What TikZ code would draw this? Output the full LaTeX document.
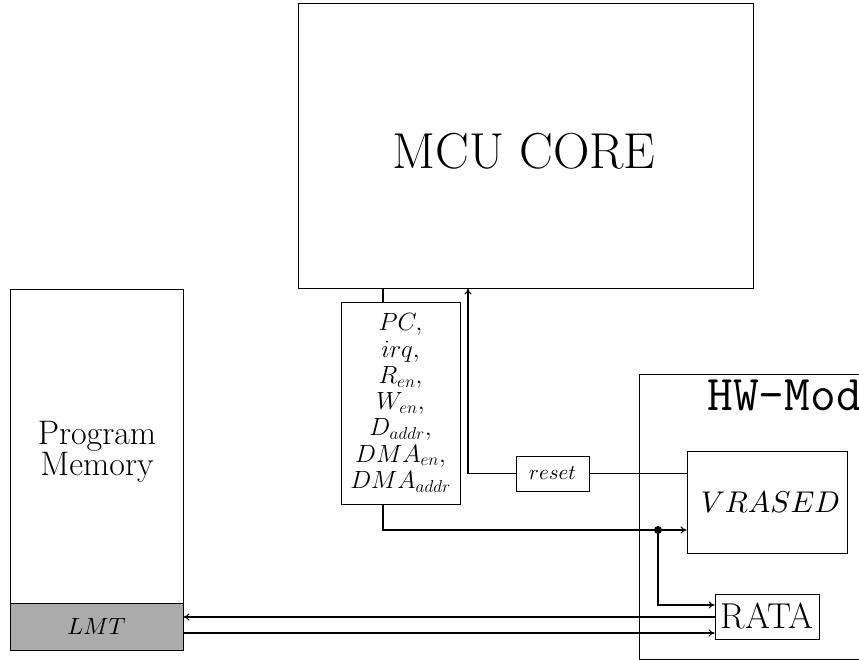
\documentclass[tikz,border=0pt]{standalone}
\usepackage{graphicx}
\usetikzlibrary{arrows.meta}
\begin{document}
\begin{tikzpicture}[x=1pt,y=-1pt,
  box/.style={draw,line width=0.9pt,inner sep=0pt},
  conn/.style={line width=1.1pt},
  arr/.style={conn,-{To[length=6pt,width=7pt]}},
  ]
\clip (0,0) rectangle (859,660);
% MCU core
\node[box,minimum width=455pt,minimum height=285pt] (mcu) at (525.5,145.5) {};
\node (mcutxt) at (524,151) {\fontsize{50.5}{55}\selectfont MCU CORE};
% Program memory
\node[box,minimum width=173pt,minimum height=361pt] (pm) at (96.5,469.5) {};
\node[box,fill=black!33,minimum width=173pt,minimum height=47pt] (lmt) at (96.5,626.5) {\scalebox{2.35}{$LMT$}};
\node[align=center,font=\fontsize{34}{31}\selectfont] (pmtxt) at (97,452) {Program\\Memory};
% signals
\node[box,minimum width=119pt,minimum height=202pt,align=center,font=\fontsize{23}{26.3}\selectfont] (sig) at (400.5,403)
 {$PC,$\\ $irq,$\\ $R_{en},$\\ $W_{en},$\\ $D_{addr},$\\ $DMA_{en},$\\ $DMA_{addr}$};
% HW-Mod
\node[box,minimum width=240pt,minimum height=285pt] (hw) at (759,516.5) {};
\node[anchor=base east,inner sep=0pt] (hwtxt) at (862,410) {\fontsize{50}{54}\selectfont\ttfamily HW-Mod};
\node[box,minimum width=160pt,minimum height=102pt] (vr) at (767,502) {};
\node (vrtxt) at (770.5,502) {\scalebox{3.0}{$VRASED$}};
\node[box,minimum width=104pt,minimum height=45pt] (rata) at (767,616.5) {\fontsize{36}{40}\selectfont RATA};
\node[box,minimum width=73pt,minimum height=35pt] (rst) at (552.5,473.5) {\scalebox{2.1}{$reset$}};
% helper coordinates
\coordinate (xs) at (383,0);
\coordinate (yr) at (0,473.5);
\coordinate (xr) at (468,0);
\coordinate (ys) at (0,530);
\coordinate (dot) at (658,530);
\coordinate (yra) at (0,605);
\coordinate (ylin) at (0,617);
\coordinate (ylout) at (0,633);
% connectors
\draw[conn] (xs |- sig.north) -- (xs |- mcu.south);
\draw[conn] (vr.west |- yr) -- (rst.east);
\draw[arr] (rst.west) -- (xr |- yr) -- (xr |- mcu.south);
\draw[arr] (xs |- sig.south) |- (vr.west |- ys);
\fill (dot) circle (4pt);
\draw[arr] (dot) |- (rata.west |- yra);
\draw[arr] (rata.west |- ylin) -- (lmt.east |- ylin);
\draw[arr] (lmt.east |- ylout) -- (rata.west |- ylout);
\end{tikzpicture}
\end{document}
